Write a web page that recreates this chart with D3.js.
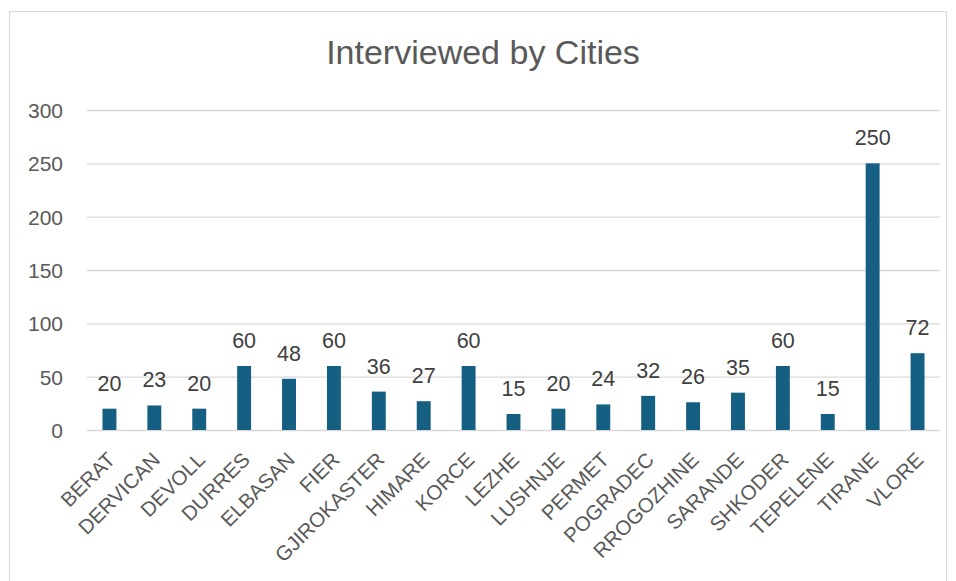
<!DOCTYPE html>
<html><head><meta charset="utf-8">
<script src="https://cdn.jsdelivr.net/npm/d3@7"></script>
<style>body{margin:0;background:#fff;} text{font-family:"Liberation Sans",Arial,sans-serif;}</style>
</head><body>
<svg id="c" width="956" height="581"></svg>
<script>
const categories = ["BERAT","DERVICAN","DEVOLL","DURRES","ELBASAN","FIER","GJIROKASTER","HIMARE","KORCE","LEZHE","LUSHNJE","PERMET","POGRADEC","RROGOZHINE","SARANDE","SHKODER","TEPELENE","TIRANE","VLORE"];
const values = [20,23,20,60,48,60,36,27,60,15,20,24,32,26,35,60,15,250,72];
const yTicks = [0,50,100,150,200,250,300];
const title = "Interviewed by Cities";

(function(){
const svg = d3.select("#c");
svg.append("rect").attr("x",9.5).attr("y",11.5).attr("width",937).attr("height",600)
  .attr("fill","#fff").attr("stroke","#d9d9d9").attr("stroke-width",1);

const pl = 87, pr = 940, pt = 110, pb = 430;
const x = d3.scaleBand().domain(categories).range([pl,pr]).paddingInner(0.69).paddingOuter(0.345);
const y = d3.scaleLinear().domain([0,300]).range([pb,pt]);

const yAxis = d3.axisLeft(y).tickValues(yTicks).tickSize(-(pr-pl)).tickPadding(24);
const gy = svg.append("g").attr("transform",`translate(${pl},0)`).call(yAxis);
gy.select(".domain").remove();
gy.selectAll(".tick line").attr("stroke","#d9d9d9").attr("stroke-width",1.3);
gy.selectAll(".tick text").attr("fill","#595959").style("font-size","21px").attr("x",-24).attr("dy","0.35em");

svg.append("g").selectAll("rect").data(values).join("rect")
  .attr("x",(d,i)=>x(categories[i])).attr("width",x.bandwidth())
  .attr("y",d=>y(d)).attr("height",d=>pb-y(d)).attr("fill","#156082");

svg.append("g").selectAll("text").data(values).join("text")
  .attr("x",(d,i)=>x(categories[i])+x.bandwidth()/2).attr("y",d=>y(d)-18)
  .attr("text-anchor","middle").attr("fill","#404040").style("font-size","21.5px").text(d=>d);

const xAxis = d3.axisBottom(x).tickSize(0).tickPadding(0);
const gx = svg.append("g").attr("transform",`translate(0,${pb})`).call(xAxis);
gx.select(".domain").remove();
gx.selectAll(".tick text").attr("fill","#595959").style("font-size","20.5px")
  .attr("text-anchor","end").attr("dy",0).attr("y",0)
  .attr("transform","translate(7,31) rotate(-45)");

svg.append("text").attr("x",483).attr("y",64).attr("text-anchor","middle")
  .attr("fill","#595959").style("font-size","34px").text(title);
})();
</script>
</body></html>
